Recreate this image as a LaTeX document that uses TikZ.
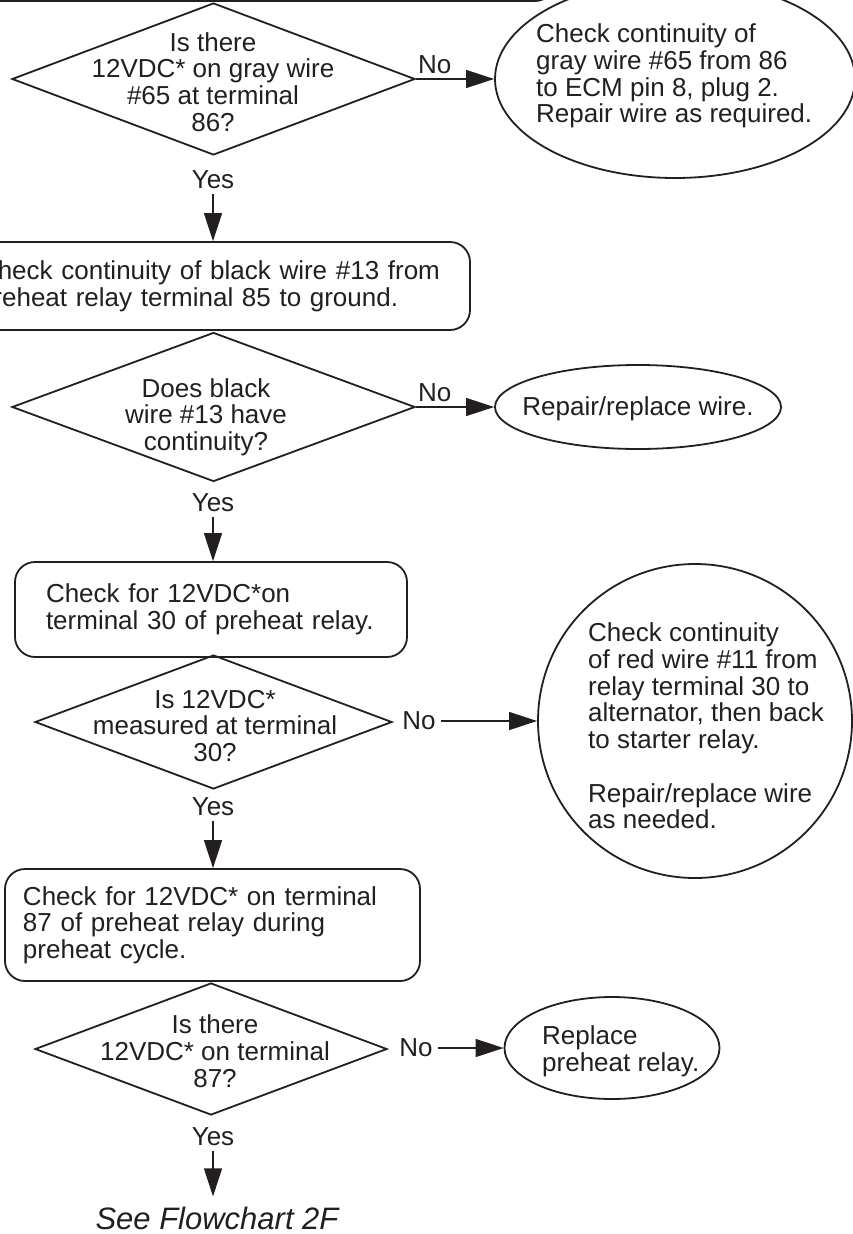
\documentclass[tikz,border=0pt]{standalone}
\usepackage{fontspec}
\setmainfont{Liberation Sans}
\usetikzlibrary{arrows.meta,shapes.geometric,positioning}
\definecolor{ink}{HTML}{231F20}
\newcommand{\chartfont}{\fontsize{26}{26.7}\selectfont}

\tikzset{
  decision/.style={diamond, draw=ink, line width=1.8pt, inner sep=0pt},
  outcome/.style={ellipse, draw=ink, line width=1.8pt, inner sep=0pt},
  stepbox/.style={rectangle, rounded corners=20pt, draw=ink, line width=1.8pt, inner sep=0pt, align=left, font=\chartfont, text=ink},
  qtext/.style={align=center, inner sep=0pt, font=\chartfont, text=ink},
  otext/.style={align=left, inner sep=0pt, anchor=west, font=\chartfont, text=ink},
  answer/.style={inner sep=5pt, font=\chartfont, text=ink},
  flow/.style={draw=ink, line width=1.3pt, -{Triangle[length=28pt, width=18pt]}}
}

\begin{document}
\begin{tikzpicture}[x=1pt, y=-1pt]
  \useasboundingbox (0,0) rectangle (852,1234);
  \fill[white] (0,0) rectangle (852,1234);

  % previous step, cut off at the top
  \node[stepbox, minimum width=700pt, minimum height=102pt] (b0) at (205,-50) {};

  % terminal 86
  \node[decision, minimum width=403pt, minimum height=152pt] (q1) at (213.5,79) {};
  \node[qtext] (q1t) at (213,82) {Is there\\12VDC* on gray wire\\\#65 at terminal\\86?};
  \node[outcome, minimum width=360pt, minimum height=198pt] (e1) at (675,79) {};
  \node[otext] (e1t) at (536,76) {Check continuity of\\gray wire \#65 from 86\\to ECM pin 8, plug 2.\\Repair wire as required.};
  \draw[flow] (q1.east) -- (e1.west) node[answer, pos=0.24, above] (no1) {No};

  \node[answer] (y1) at (213,180) {Yes};
  \node[stepbox, minimum width=520pt, minimum height=88pt, text width=462pt] (b1) at (210,286)
    {Check continuity of black wire \#13 from\\preheat relay terminal 85 to ground.};
  \draw[flow] (y1.south) -- (y1.south |- b1.north);

  % wire 13
  \node[decision, minimum width=403pt, minimum height=149pt] (q2) at (213.5,407) {};
  \node[qtext] (q2t) at (206,417) {Does black\\wire \#13 have\\continuity?};
  \node[outcome, minimum width=286pt, minimum height=84pt] (e2) at (638,407) {};
  \node[qtext] (e2t) at (638,409) {Repair/replace wire.};
  \draw[flow] (q2.east) -- (e2.west) node[answer, pos=0.24, above] (no2) {No};

  \node[answer] (y2) at (213,503) {Yes};
  \node[stepbox, minimum width=392pt, minimum height=95pt, text width=330pt] (b2) at (211,609.5)
    {Check for 12VDC*on\\terminal 30 of preheat relay.};
  \draw[flow] (y2.south) -- (y2.south |- b2.north);

  % terminal 30
  \node[decision, minimum width=357pt, minimum height=134pt] (q3) at (213.5,722) {};
  \node[qtext] (q3t) at (215,726) {Is 12VDC*\\measured at terminal\\30?};
  \node[outcome, minimum width=314pt, minimum height=314pt] (e3) at (695,721) {};
  \node[otext] (e3t) at (588,726) {Check continuity\\of red wire \#11 from\\relay terminal 30 to\\alternator, then back\\to starter relay.\\[26.7pt]Repair/replace wire\\as needed.};
  \node[answer] (no3) at (419,721) {No};
  \draw[flow] (no3.east) -- (e3.west);

  \node[answer] (y3) at (213,807) {Yes};
  \node[stepbox, minimum width=415pt, minimum height=112pt, text width=379pt] (b3) at (212.5,925)
    {Check for 12VDC* on terminal\\87 of preheat relay during\\preheat cycle.};
  \draw[flow] (y3.south) -- (y3.south |- b3.north);

  % terminal 87
  \node[decision, minimum width=352pt, minimum height=132pt] (q4) at (211,1049) {};
  \node[qtext] (q4t) at (215,1051) {Is there\\12VDC* on terminal\\87?};
  \node[outcome, minimum width=215pt, minimum height=102pt] (e4) at (612,1048) {};
  \node[otext] (e4t) at (542,1051) {Replace\\preheat relay.};
  \node[answer] (no4) at (416,1048) {No};
  \draw[flow] (no4.east) -- (e4.west);

  \node[answer] (y4) at (213,1137) {Yes};
  \node[font=\fontsize{31}{34}\selectfont\itshape, text=ink, inner sep=10pt] (fc) at (217,1218) {See Flowchart 2F};
  \draw[flow] (y4.south) -- (y4.south |- fc.north);
\end{tikzpicture}
\end{document}
